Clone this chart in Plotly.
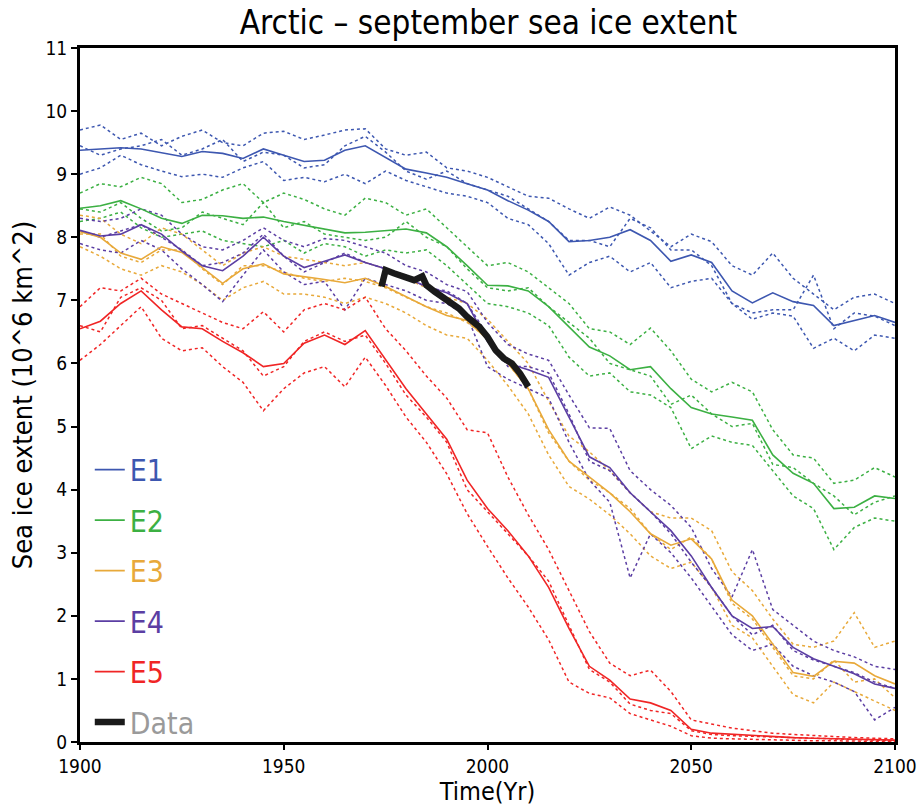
import plotly.graph_objects as go

years = list(range(1900, 2101, 5))

e1_mean = [9.38, 9.40, 9.42, 9.40, 9.34, 9.28, 9.36, 9.33, 9.25, 9.40, 9.30, 9.20, 9.22, 9.38, 9.45, 9.27, 9.08, 9.02, 8.95, 8.85, 8.75, 8.58, 8.43, 8.25, 7.93, 7.95, 8.00, 8.12, 7.95, 7.62, 7.72, 7.60, 7.15, 6.96, 7.12, 6.98, 6.92, 6.60, 6.68, 6.76, 6.65]
e1_m1 = [9.70, 9.78, 9.55, 9.65, 9.45, 9.60, 9.70, 9.50, 9.45, 9.65, 9.68, 9.55, 9.62, 9.70, 9.72, 9.40, 9.30, 9.35, 9.10, 9.05, 8.95, 8.80, 8.65, 8.62, 8.45, 8.30, 8.48, 8.35, 8.10, 7.85, 8.05, 7.93, 7.55, 7.40, 7.75, 7.35, 7.10, 6.85, 7.05, 7.10, 6.95]
e1_m2 = [9.00, 9.10, 9.30, 9.15, 9.05, 8.96, 9.00, 8.95, 9.10, 9.20, 8.90, 8.95, 8.88, 9.00, 8.85, 9.05, 8.90, 8.80, 8.70, 8.65, 8.55, 8.30, 8.20, 7.90, 7.40, 7.60, 7.70, 7.45, 7.60, 7.20, 7.30, 7.35, 6.95, 6.70, 6.80, 6.75, 6.24, 6.40, 6.20, 6.45, 6.40]
e1_m3 = [9.45, 9.30, 9.40, 9.45, 9.55, 9.30, 9.40, 9.55, 9.20, 9.35, 9.30, 9.10, 9.15, 9.45, 9.60, 9.35, 9.05, 8.92, 9.05, 8.85, 8.75, 8.65, 8.45, 8.25, 7.95, 7.95, 7.85, 8.30, 8.15, 7.80, 7.80, 7.55, 6.95, 6.80, 6.85, 6.85, 7.40, 6.55, 6.80, 6.75, 6.60]

e2_mean = [8.46, 8.50, 8.58, 8.45, 8.30, 8.22, 8.35, 8.34, 8.30, 8.32, 8.25, 8.19, 8.12, 8.07, 8.08, 8.10, 8.13, 8.07, 7.85, 7.55, 7.24, 7.23, 7.15, 6.90, 6.58, 6.26, 6.12, 5.90, 5.95, 5.60, 5.30, 5.20, 5.15, 5.10, 4.55, 4.26, 4.10, 3.70, 3.72, 3.90, 3.86]
e2_m1 = [8.70, 8.85, 8.80, 8.95, 8.85, 8.55, 8.60, 8.75, 8.85, 8.55, 8.70, 8.60, 8.45, 8.35, 8.62, 8.55, 8.35, 8.45, 8.15, 7.85, 7.55, 7.60, 7.45, 7.20, 6.95, 6.55, 6.50, 6.30, 6.56, 6.20, 5.75, 5.55, 5.70, 5.55, 4.95, 4.55, 4.50, 4.10, 4.15, 4.35, 4.20]
e2_m2 = [8.25, 8.30, 8.40, 8.15, 8.00, 8.05, 8.10, 7.95, 7.90, 7.85, 7.95, 7.75, 7.90, 7.85, 7.70, 7.80, 7.75, 7.80, 7.55, 7.25, 6.95, 6.90, 6.80, 6.60, 6.10, 5.80, 5.85, 5.55, 5.50, 5.30, 4.65, 4.85, 4.75, 4.70, 4.30, 3.90, 3.70, 3.05, 3.40, 3.55, 3.50]
e2_m3 = [8.45, 8.40, 8.55, 8.30, 8.10, 8.15, 8.40, 8.30, 8.20, 8.55, 8.15, 8.25, 8.05, 8.00, 7.95, 8.00, 8.25, 8.00, 7.85, 7.50, 7.20, 7.15, 7.20, 6.90, 6.65, 6.40, 6.00, 5.90, 5.80, 5.35, 5.50, 5.20, 5.00, 5.05, 4.40, 4.35, 4.10, 3.90, 3.60, 3.80, 3.90]

e3_mean = [8.09, 8.00, 7.75, 7.65, 7.85, 7.76, 7.52, 7.27, 7.50, 7.58, 7.42, 7.38, 7.33, 7.28, 7.35, 7.22, 7.06, 6.90, 6.76, 6.68, 6.38, 6.00, 5.60, 4.95, 4.45, 4.20, 3.95, 3.65, 3.30, 3.12, 3.22, 2.90, 2.25, 2.00, 1.55, 1.10, 1.04, 1.28, 1.25, 1.05, 0.92]
e3_m1 = [8.35, 8.30, 8.05, 7.90, 8.15, 8.05, 7.80, 7.55, 7.75, 7.85, 7.70, 7.65, 7.60, 7.55, 7.60, 7.50, 7.35, 7.20, 7.05, 6.95, 6.70, 6.35, 6.00, 5.40, 4.85, 4.60, 4.30, 3.95, 3.65, 3.55, 3.55, 3.35, 2.70, 2.40, 1.95, 1.55, 1.50, 1.60, 2.05, 1.50, 1.60]
e3_m2 = [7.85, 7.70, 7.50, 7.40, 7.55, 7.45, 7.25, 7.00, 7.20, 7.30, 7.10, 7.10, 7.05, 6.95, 7.05, 6.95, 6.80, 6.60, 6.45, 6.40, 6.05, 5.65, 5.20, 4.55, 4.05, 3.85, 3.60, 3.30, 2.95, 2.75, 2.85, 2.45, 1.85, 1.65, 1.20, 0.75, 0.62, 0.95, 0.80, 0.65, 0.50]
e3_m3 = [8.05, 8.05, 7.70, 7.60, 7.80, 7.80, 7.50, 7.25, 7.55, 7.55, 7.45, 7.35, 7.30, 7.35, 7.30, 7.20, 7.05, 6.90, 6.80, 6.65, 6.40, 6.00, 5.60, 4.90, 4.45, 4.15, 3.95, 3.70, 3.30, 3.05, 3.25, 2.90, 2.20, 1.95, 1.50, 1.05, 1.00, 1.30, 0.95, 1.00, 0.70]

e4_mean = [8.11, 8.02, 8.05, 8.20, 8.05, 7.78, 7.55, 7.47, 7.70, 8.00, 7.70, 7.52, 7.62, 7.72, 7.60, 7.50, 7.36, 7.22, 7.12, 6.95, 6.35, 6.00, 5.90, 5.78, 5.15, 4.52, 4.35, 3.95, 3.65, 3.35, 2.95, 2.45, 2.00, 1.80, 1.83, 1.50, 1.32, 1.20, 1.08, 0.92, 0.85]
e4_m1 = [8.30, 8.25, 8.30, 8.45, 8.35, 8.05, 7.85, 7.80, 7.95, 8.15, 7.95, 7.85, 7.98, 7.95, 7.85, 7.75, 7.55, 7.45, 7.25, 7.14, 6.65, 6.30, 6.15, 6.05, 5.50, 4.98, 4.97, 4.30, 4.00, 3.75, 3.40, 2.75, 2.30, 3.05, 2.10, 1.85, 1.60, 1.45, 1.35, 1.20, 1.15]
e4_m2 = [7.90, 7.80, 7.75, 7.95, 7.80, 7.50, 7.25, 6.98, 7.40, 7.80, 7.45, 7.25, 7.30, 6.85, 7.35, 7.25, 7.15, 7.00, 6.95, 6.75, 5.95, 5.75, 5.60, 5.45, 4.75, 4.15, 3.80, 2.60, 3.30, 3.00, 2.60, 2.15, 1.70, 1.45, 1.55, 1.20, 1.05, 0.95, 0.80, 0.35, 0.55]
e4_m3 = [8.10, 8.00, 8.10, 8.20, 8.00, 7.80, 7.55, 7.60, 7.75, 8.05, 7.70, 7.45, 7.60, 7.75, 7.60, 7.50, 7.40, 7.20, 7.15, 6.95, 6.45, 5.95, 5.95, 5.85, 5.20, 4.45, 4.30, 3.95, 3.65, 3.30, 2.85, 2.45, 2.00, 1.70, 1.85, 1.45, 1.30, 1.20, 1.10, 0.95, 0.85]

e5_mean = [6.55, 6.67, 6.95, 7.15, 6.85, 6.58, 6.55, 6.35, 6.17, 5.95, 6.00, 6.32, 6.45, 6.30, 6.52, 6.05, 5.60, 5.20, 4.80, 4.15, 3.70, 3.35, 2.95, 2.45, 1.80, 1.20, 0.98, 0.68, 0.62, 0.50, 0.20, 0.14, 0.12, 0.10, 0.08, 0.07, 0.06, 0.05, 0.04, 0.03, 0.03]
e5_m1 = [6.90, 7.20, 7.15, 7.35, 7.10, 6.95, 6.80, 6.65, 6.55, 6.82, 6.50, 6.85, 6.95, 6.85, 7.05, 6.55, 6.20, 5.80, 5.45, 4.95, 4.90, 4.20, 3.60, 3.05, 2.40, 1.75, 1.25, 1.05, 1.14, 0.80, 0.35, 0.28, 0.22, 0.18, 0.14, 0.12, 0.10, 0.09, 0.07, 0.06, 0.05]
e5_m2 = [6.05, 6.30, 6.60, 6.90, 6.40, 6.20, 6.25, 5.95, 5.70, 5.25, 5.60, 5.85, 5.95, 5.63, 6.10, 5.65, 5.15, 4.75, 4.25, 3.62, 3.10, 2.60, 2.14, 1.62, 0.95, 0.77, 0.70, 0.45, 0.35, 0.25, 0.10, 0.06, 0.05, 0.04, 0.03, 0.02, 0.02, 0.02, 0.01, 0.01, 0.01]
e5_m3 = [6.60, 6.50, 7.05, 7.20, 7.00, 6.55, 6.60, 6.40, 6.20, 5.80, 5.95, 6.35, 6.50, 6.35, 6.45, 6.00, 5.50, 5.15, 4.75, 4.00, 3.65, 3.30, 2.95, 2.55, 1.85, 1.15, 0.95, 0.60, 0.50, 0.45, 0.18, 0.12, 0.10, 0.09, 0.07, 0.06, 0.05, 0.04, 0.03, 0.03, 0.02]

data_years = [1974, 1975, 1977, 1980, 1982, 1984, 1985, 1987, 1990, 1993, 1995, 1998, 2000, 2002, 2004, 2006, 2008, 2010]
data_vals = [7.22, 7.48, 7.43, 7.37, 7.32, 7.38, 7.24, 7.14, 7.00, 6.87, 6.74, 6.58, 6.42, 6.21, 6.08, 6.00, 5.84, 5.63]

names = ["E1", "E2", "E3", "E4", "E5"]
colors = ["#3d57b0", "#3cb043", "#e8a93a", "#5b3ea3", "#f02525"]
means = [e1_mean, e2_mean, e3_mean, e4_mean, e5_mean]
members = [[e1_m1, e1_m2, e1_m3], [e2_m1, e2_m2, e2_m3], [e3_m1, e3_m2, e3_m3],
           [e4_m1, e4_m2, e4_m3], [e5_m1, e5_m2, e5_m3]]

FONT = "DejaVu Sans Condensed, Liberation Sans Narrow, Liberation Sans, sans-serif"

fig = go.Figure()
for name, col, mems in zip(names, colors, members):
    for m in mems:
        fig.add_trace(go.Scatter(x=years, y=m, mode="lines", showlegend=False,
                                 line=dict(color=col, width=1.5, dash="dot"),
                                 hoverinfo="skip"))
for name, col, mean in zip(names, colors, means):
    fig.add_trace(go.Scatter(x=years, y=mean, mode="lines",
                             name=f"<span style='color:{col}'>{name}</span>",
                             legendgroup=name,
                             line=dict(color=col, width=1.6)))
fig.add_trace(go.Scatter(x=data_years, y=data_vals, mode="lines",
                         name="<span style='color:#9a9a9a'>Data</span>",
                         legendgroup="Data",
                         line=dict(color="#1a1a1a", width=6.5)))

fig.update_layout(
    width=920, height=806,
    margin=dict(l=80, r=25, t=48, b=64),
    paper_bgcolor="white", plot_bgcolor="white",
    font=dict(family=FONT, color="black"),
    title=dict(text="Arctic – september sea ice extent", x=0.531, xanchor="center",
               y=0.972, yanchor="middle", font=dict(size=33, family=FONT)),
    showlegend=True,
    legend=dict(x=0.012, y=0.43, xanchor="left", yanchor="top",
                bgcolor="rgba(0,0,0,0)", font=dict(size=30, family=FONT),
                tracegroupgap=8.5, itemwidth=30),
    xaxis=dict(range=[1900, 2100], tickvals=[1900, 1950, 2000, 2050, 2100],
               ticks="outside", ticklen=5, tickwidth=1.5, tickcolor="black",
               showline=True, linecolor="black", linewidth=3, mirror=True,
               showgrid=False, zeroline=False, automargin=False,
               tickfont=dict(size=19), title=dict(text="Time(Yr)", font=dict(size=25))),
    yaxis=dict(range=[0, 11], dtick=1, tick0=0,
               ticks="outside", ticklen=6, tickwidth=1.5, tickcolor="black",
               showline=True, linecolor="black", linewidth=3, mirror=True,
               showgrid=False, zeroline=False, automargin=False,
               tickfont=dict(size=19),
               title=dict(text="Sea ice extent (10^6 km^2)", font=dict(size=27), standoff=6)),
)

# remove the default 8px page margin so the 920x806 figure fills the window exactly
fig.write_html("out.html", config={"displayModeBar": False},
               post_script="document.body.style.margin='0';document.body.style.overflow='hidden';")
